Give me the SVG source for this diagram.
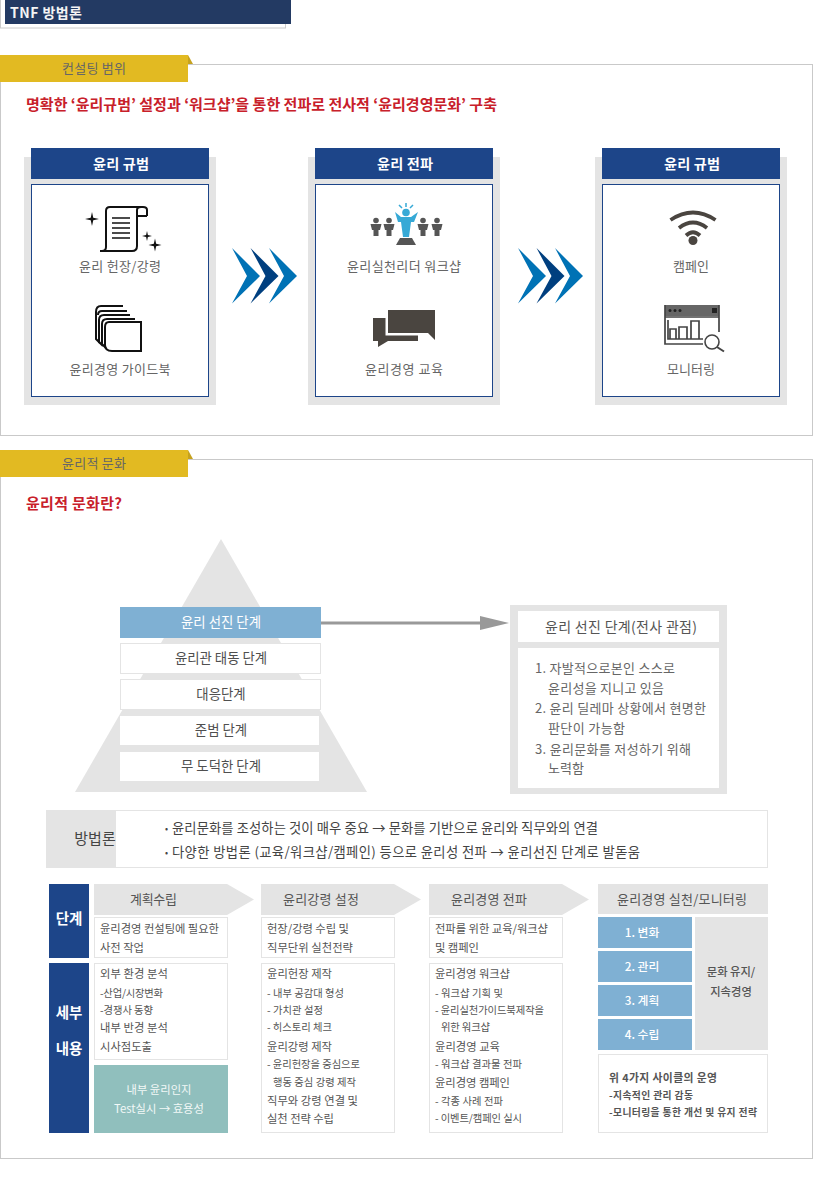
<svg xmlns="http://www.w3.org/2000/svg" width="813" height="1181" viewBox="0 0 813 1181">
<defs>
<style>
text{font-family:"Noto Sans CJK KR","Noto Sans",sans-serif;fill:#555}
.w{fill:#fff}
.b{font-weight:700}
.m{text-anchor:middle}
.h{font-size:14.200px;font-weight:700;fill:#fff}
.lab{font-size:13px;fill:#666;text-anchor:middle}
.py{font-size:13.400px;fill:#4f4f4f;text-anchor:middle}
.t{font-size:11.300px;fill:#555}
.s{font-size:10.300px;fill:#555}
.ph{font-size:13px;fill:#555}
.line{fill:#fff;stroke:#e4e4e4;stroke-width:1}
.g{fill:#e4e4e4}
.navy{fill:#1d4589}
.blue{fill:#7fb0d3}
.card{fill:#fff;stroke:#1d4589;stroke-width:1}
.sec{fill:#fff;stroke:#c9c9c9;stroke-width:1}
.gold{fill:#e2ba22}
.fold{fill:#c6a21f}
.ink{fill:none;stroke:#111;stroke-width:2}
.dk{fill:#4a4540}
.wifi{fill:none;stroke:#4a4540;stroke-width:3.800}
.mon{fill:none;stroke:#444;stroke-width:1.700}
</style>
<polygon id="star" points="0,-1 0.18,-0.18 1,0 0.18,0.18 0,1 -0.18,0.18 -1,0 -0.18,-0.18"/>
<g id="person"><circle cx="0" cy="-6.500" r="2.800"/><path d="M-5.500,-3 H5.500 L4,3 H2.500 V9 H-2.500 V3 H-4 Z"/></g>
<g id="chev"><polygon points="0,0 28,28 0,55.500 15,28"/></g>
</defs>

<g id="title">
<rect x="0.500" y="-1" width="285" height="29" fill="#fff" stroke="#ccc"/>
<rect x="5" y="0" width="286" height="24" fill="#233a63"/>
<text x="10" y="18" font-size="14" textLength="72" style="fill:#f4f4f4;font-weight:700">TNF 방법론</text>
</g>

<g id="section-scope">
<rect class="sec" x="0.500" y="64.500" width="812" height="371"/>
<polygon class="fold" points="188,55 193,64 188,64"/>
<rect class="gold" x="0" y="55" width="188" height="27"/>
<text x="62" y="73" font-size="13" textLength="64" style="fill:#666">컨설팅 범위</text>
<text x="26" y="110" class="b" font-size="15" textLength="471" style="fill:#c8202a">명확한 ‘윤리규범’ 설정과 ‘워크샵’을 통한 전파로 전사적 ‘윤리경영문화’ 구축</text>
</g>

<g id="card-norm">
<rect class="g" x="24" y="157" width="192" height="248"/>
<rect class="navy" x="31" y="148" width="178" height="31"/>
<rect class="card" x="31.500" y="184.500" width="177" height="212"/>
<text x="93" y="169" class="h" textLength="56">윤리 규범</text>
<g fill="#111">
<use href="#star" transform="translate(92,219) scale(7)"/>
<use href="#star" transform="translate(147,236) scale(5)"/>
<use href="#star" transform="translate(155,245) scale(6.500)"/>
</g>
<path class="ink" d="M147,216 V210 Q147,207 143,207 H110 Q106,207 106,211 V247 Q106,251 102,251 H132 Q137,251 137,246 V210 Q137,207 141,207 M137,216 H147 M106,251 L100,251"/>
<path class="ink" d="M112,218 H130 M112,223 H130 M112,228 H130 M112,233 H130 M112,238 H130" style="stroke-width:1.600"/>
<text x="120" y="271" class="lab" textLength="82">윤리 헌장/강령</text>
<path class="ink" d="M141,322 H109 Q105,322 105,327 V345 Q105,351 112,351 H141 Z"/>
<path class="ink" d="M135,319 H107 Q102,319 102,324 V344 L106,348"/>
<path class="ink" d="M130,315 H104 Q99,315 99,320 V342 L103,346"/>
<path class="ink" d="M123,306 H101 Q96,306 96,312 V339 L100,343 M127,311 H102 Q98,311 98,315"/>
<text x="120" y="374" class="lab" textLength="101">윤리경영 가이드북</text>
</g>

<g id="card-spread">
<rect class="g" x="308" y="157" width="192" height="248"/>
<rect class="navy" x="315" y="148" width="178" height="31"/>
<rect class="card" x="315.500" y="184.500" width="177" height="212"/>
<text x="377" y="169" class="h" textLength="56">윤리 전파</text>
<g fill="#555">
<use href="#person" transform="translate(376,227)"/>
<use href="#person" transform="translate(389,227)"/>
<use href="#person" transform="translate(423,227)"/>
<use href="#person" transform="translate(437,227)"/>
</g>
<circle cx="406" cy="212.500" r="3.800" fill="#36a9d6"/>
<path fill="#36a9d6" d="M395,212 L401,217 H411 L418,212 L414,222 H411 L409,237 H403 L401,222 H398 Z"/>
<path stroke="#36a9d6" stroke-width="1.500" fill="none" d="M406,203 V207 M399,205 L402,208 M413,205 L410,208"/>
<path fill="#555" d="M400,238 H412 L416,245 H396 Z"/>
<text x="404" y="271" class="lab" textLength="114">윤리실천리더 워크샵</text>
<path class="dk" d="M388,310 H435 V340 L428,333 H388 Z"/>
<path class="dk" d="M373,318 H385.500 V335.500 H418 V341 H388 L378,347 V341 H373 Z"/>
<text x="404" y="374" class="lab" textLength="78">윤리경영 교육</text>
</g>

<g id="card-campaign">
<rect class="g" x="595" y="157" width="192" height="248"/>
<rect class="navy" x="602" y="148" width="178" height="31"/>
<rect class="card" x="602.500" y="184.500" width="177" height="212"/>
<text x="664" y="169" class="h" textLength="56">윤리 규범</text>
<circle cx="693" cy="240.500" r="4.500" fill="#4a4540"/>
<path class="wifi" d="M670.500,220 Q693,205 715.500,220"/>
<path class="wifi" d="M679,228 Q693,217 707,228"/>
<path class="wifi" d="M686,235.500 Q693,229 700,235.500"/>
<text x="691" y="271" class="lab">캠페인</text>
<rect x="665" y="305" width="54" height="11" fill="#666"/>
<path class="mon" d="M665,305 V344 H703 M719,305 V332 M665,317 H719"/>
<g fill="#222"><circle cx="670" cy="310.500" r="1.500"/><circle cx="675" cy="310.500" r="1.500"/><circle cx="680" cy="310.500" r="1.500"/><rect x="712" y="308" width="5" height="5"/></g>
<path class="mon" d="M668,320 V339 H703 M670,339 V329 H676 V339 M679,339 V327 H687 V339 M691,339 V321 H699 V339"/>
<circle cx="712" cy="342" r="7" fill="#fff" stroke="#444" stroke-width="1.600"/>
<path stroke="#444" stroke-width="2" d="M717,347 L724,351.500"/>
<text x="691" y="374" class="lab">모니터링</text>
</g>

<g id="section-culture">
<rect class="sec" x="0.500" y="459.500" width="812" height="699"/>
<polygon class="fold" points="188,450 193,459 188,459"/>
<rect class="gold" x="0" y="450" width="188" height="27"/>
<text x="62" y="468" font-size="13" textLength="64" style="fill:#666">윤리적 문화</text>
<text x="26" y="509" class="b" font-size="15" textLength="96" style="fill:#c8202a">윤리적 문화란?</text>
</g>

<g id="pyramid">
<polygon class="g" points="221,539 367,792 75,792"/>
<g id="level-5"><rect class="blue" x="120" y="607" width="201" height="31"/><text x="221" y="627" class="py" style="fill:#fff">윤리 선진 단계</text></g>
<g id="level-4"><rect class="line" x="120.500" y="643.500" width="200" height="30"/><text x="221" y="663" class="py">윤리관 태동 단계</text></g>
<g id="level-3"><rect class="line" x="120.500" y="679.500" width="200" height="30"/><text x="221" y="699" class="py">대응단계</text></g>
<g id="level-2"><rect x="120" y="716" width="199" height="29" fill="#fff"/><text x="221" y="735" class="py">준범 단계</text></g>
<g id="level-1"><rect x="120" y="752" width="199" height="29" fill="#fff"/><text x="221" y="771" class="py">무 도덕한 단계</text></g>
</g>

<g id="detail-box">
<rect class="g" x="510" y="605" width="217" height="189"/>
<rect x="518" y="611" width="201" height="31" fill="#fff"/>
<rect x="518" y="648" width="201" height="140" fill="#fff"/>
<text x="621" y="632" class="m" font-size="14" textLength="152">윤리 선진 단계(전사 관점)</text>
<g font-size="13">
<text x="535" y="673" textLength="140" style="fill:#666">1. 자발적으로본인 스스로</text>
<text x="548" y="693" textLength="116" style="fill:#666">윤리성을 지니고 있음</text>
<text x="535" y="713" textLength="171" style="fill:#666">2. 윤리 딜레마 상황에서 현명한</text>
<text x="548" y="733" textLength="77" style="fill:#666">판단이 가능함</text>
<text x="535" y="754" textLength="156" style="fill:#666">3. 윤리문화를 저성하기 위해</text>
<text x="548" y="773" textLength="36" style="fill:#666">노력함</text>
</g>
</g>

<g id="method">
<rect class="line" x="46.500" y="810.500" width="721" height="57"/>
<rect class="g" x="46" y="810" width="70" height="58"/>
<text x="95" y="844" class="m" font-size="15" style="fill:#444">방법론</text>
<text x="165" y="832" font-size="9" style="fill:#444">•</text>
<text x="172" y="833" font-size="13.300" textLength="426" style="fill:#444">윤리문화를 조성하는 것이 매우 중요 → 문화를 기반으로 윤리와 직무와의 연결</text>
<text x="165" y="856" font-size="9" style="fill:#444">•</text>
<text x="172" y="857" font-size="13.300" textLength="468" style="fill:#444">다양한 방법론 (교육/워크샵/캠페인) 등으로 윤리성 전파 → 윤리선진 단계로 발돋움</text>
</g>

<g id="row-labels">
<rect class="navy" x="49" y="884" width="40" height="74"/>
<rect class="navy" x="49" y="963" width="40" height="170"/>
<text x="69" y="924" class="m b" font-size="14.500" style="fill:#fff">단계</text>
<text x="69" y="1018" class="m b" font-size="14.500" style="fill:#fff">세부</text>
<text x="69" y="1054" class="m b" font-size="14.500" style="fill:#fff">내용</text>
</g>

<g id="step-plan">
<polygon class="g" points="94,884 227,884 254,899.500 227,915 94,915"/>
<text x="130" y="904" class="ph" textLength="47">계획수립</text>
<rect class="line" x="94.500" y="917.500" width="133" height="40"/>
<text x="100" y="933" class="t" textLength="119">윤리경영 컨설팅에 필요한</text>
<text x="100" y="952" class="t" textLength="44">사전 작업</text>
<rect class="line" x="94.500" y="963.500" width="133" height="96"/>
<text x="100" y="978" class="t" textLength="68">외부 환경 분석</text>
<text x="100" y="997" class="s" textLength="63">-산업/시장변화</text>
<text x="100" y="1014" class="s" textLength="53">-경쟁사 동향</text>
<text x="100" y="1032" class="t" textLength="68">내부 반경 분석</text>
<text x="100" y="1051" class="t" textLength="52">시사점도출</text>
<rect x="94" y="1065" width="134" height="68" fill="#90bfbd"/>
<text x="159" y="1094" class="m" font-size="11.300" style="fill:#f2f8f7">내부 윤리인지</text>
<text x="159" y="1113" class="m" font-size="11.300" style="fill:#f2f8f7">Test실시 → 효용성</text>
</g>

<g id="step-standard">
<polygon class="g" points="261,884 394,884 421,899.500 394,915 261,915"/>
<text x="283" y="904" class="ph" textLength="76">윤리강령 설정</text>
<rect class="line" x="261.500" y="917.500" width="133" height="40"/>
<text x="267" y="933" class="t" textLength="82">헌장/강령 수립 및</text>
<text x="267" y="952" class="t" textLength="86">직무단위 실천전략</text>
<rect class="line" x="261.500" y="963.500" width="133" height="169"/>
<text x="267" y="978" class="t" textLength="65">윤리헌장 제작</text>
<text x="267" y="997" class="s" textLength="77">- 내부 공감대 형성</text>
<text x="267" y="1014" class="s" textLength="56">- 가치관 설정</text>
<text x="267" y="1031" class="s" textLength="65">- 히스토리 체크</text>
<text x="267" y="1051" class="t" textLength="65">윤리강령 제작</text>
<text x="267" y="1068" class="s" textLength="93">- 윤리헌장을 중심으로</text>
<text x="273" y="1086" class="s" textLength="83">행동 중심 강령 제작</text>
<text x="267" y="1105" class="t" textLength="91">직무와 강령 연결 및</text>
<text x="267" y="1123" class="t" textLength="67">실천 전략 수립</text>
</g>

<g id="step-spread">
<polygon class="g" points="429,884 562,884 589,899.500 562,915 429,915"/>
<text x="451" y="904" class="ph" textLength="76">윤리경영 전파</text>
<rect class="line" x="429.500" y="917.500" width="133" height="40"/>
<text x="435" y="933" class="t" textLength="113">전파를 위한 교육/워크샵</text>
<text x="435" y="952" class="t" textLength="44">및 캠페인</text>
<rect class="line" x="429.500" y="963.500" width="133" height="169"/>
<text x="435" y="978" class="t" textLength="75">윤리경영 워크샵</text>
<text x="435" y="997" class="s" textLength="68">- 워크샵 기획 및</text>
<text x="435" y="1014" class="s" textLength="109">- 윤리실천가이드북제작을</text>
<text x="441" y="1031" class="s" textLength="49">위한 워크샵</text>
<text x="435" y="1051" class="t" textLength="65">윤리경영 교육</text>
<text x="435" y="1068" class="s" textLength="87">- 워크샵 결과물 전파</text>
<text x="435" y="1087" class="t" textLength="75">윤리경영 캠페인</text>
<text x="435" y="1105" class="s" textLength="68">- 각종 사례 전파</text>
<text x="435" y="1122" class="s" textLength="87">- 이벤트/캠페인 실시</text>
</g>

<g id="step-monitor">
<rect class="g" x="598" y="884" width="170" height="30"/>
<text x="617" y="904" class="ph" textLength="130">윤리경영 실천/모니터링</text>
<rect class="blue" x="598" y="917" width="94" height="31"/>
<rect class="blue" x="598" y="951" width="94" height="31"/>
<rect class="blue" x="598" y="985" width="94" height="31"/>
<rect class="blue" x="598" y="1019" width="94" height="31"/>
<g font-size="11.800" style="font-weight:500">
<text x="642" y="937" class="m" style="fill:#fff">1. 변화</text>
<text x="642" y="971" class="m" style="fill:#fff">2. 관리</text>
<text x="642" y="1005" class="m" style="fill:#fff">3. 계획</text>
<text x="642" y="1039" class="m" style="fill:#fff">4. 수립</text>
</g>
<rect class="g" x="695" y="917" width="73" height="133"/>
<text x="731" y="976" class="m" font-size="11.300" style="font-weight:500">문화 유지/</text>
<text x="731" y="996" class="m" font-size="11.300" style="font-weight:500">지속경영</text>
<rect class="line" x="598.500" y="1054.500" width="169" height="78"/>
<text x="609" y="1082" class="b" font-size="10.800" textLength="108">위 4가지 사이클의 운영</text>
<text x="609" y="1099" class="b" font-size="9.800" textLength="84">-지속적인 관리 감동</text>
<text x="609" y="1116" class="b" font-size="9.800" textLength="148">-모니터링을 통한 개선 및 유지 전략</text>
</g>

<g id="connectors">
<g transform="translate(232,248)" fill="#0072b5"><use href="#chev"/></g>
<g transform="translate(250.500,248)" fill="#003f7f"><use href="#chev"/></g>
<g transform="translate(269,248)" fill="#0072b5"><use href="#chev"/></g>
<g transform="translate(518,248)" fill="#0072b5"><use href="#chev"/></g>
<g transform="translate(536.500,248)" fill="#003f7f"><use href="#chev"/></g>
<g transform="translate(555,248)" fill="#0072b5"><use href="#chev"/></g>
<path d="M321,623 H482" stroke="#999" stroke-width="3" fill="none"/>
<polygon points="480,616 509,623 480,630" fill="#999"/>
</g>
</svg>
